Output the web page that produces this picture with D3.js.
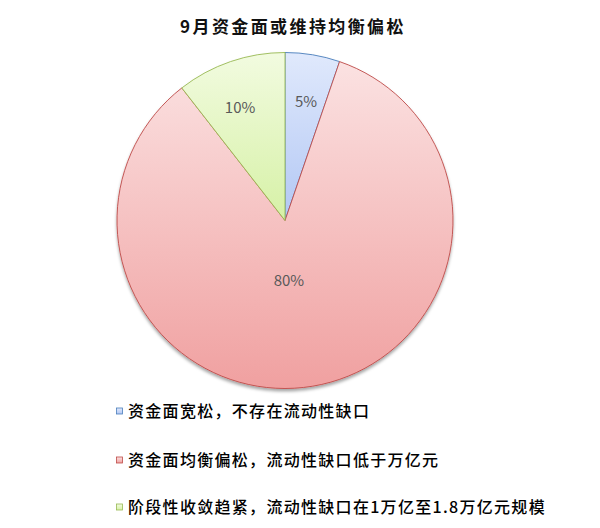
<!DOCTYPE html>
<html>
<head>
<meta charset="utf-8">
<script src="https://cdn.jsdelivr.net/npm/d3@7/dist/d3.min.js"></script>
<style>
  body { margin: 0; background: #fff; }
  text { font-family: "Noto Sans CJK SC", "Noto Sans", sans-serif; }
</style>
</head>
<body>
<div id="chart"></div>
<script>
// DATA
const title = "9月资金面或维持均衡偏松";
const categories = [
  "资金面宽松，不存在流动性缺口",
  "资金面均衡偏松，流动性缺口低于万亿元",
  "阶段性收敛趋紧，流动性缺口在1万亿至1.8万亿元规模"
];
const values = [5, 80, 10];
const valueLabels = ["5%", "80%", "10%"];

// colours: top of gradient, bottom of gradient, outline
const topColors = ["#e0e9fc", "#fbe2e2", "#f2fbe0"];
const bottomColors = ["#b2c7f4", "#f0a0a0", "#d6f1a6"];
const strokeColors = ["#4a7ebb", "#be4b48", "#98b954"];

const width = 600, height = 528;
const cx = 285, cy = 220.5, radius = 168;

const svg = d3.select("#chart").append("svg")
  .attr("width", width)
  .attr("height", height);

const defs = svg.append("defs");

categories.forEach((c, i) => {
  const grad = defs.append("linearGradient")
    .attr("id", `grad-${i}`)
    .attr("x1", 0).attr("y1", 0)
    .attr("x2", 0).attr("y2", 1);
  grad.append("stop").attr("offset", "0%").attr("stop-color", topColors[i]);
  grad.append("stop").attr("offset", "100%").attr("stop-color", bottomColors[i]);
});

const shadow = defs.append("filter")
  .attr("id", "shadow")
  .attr("x", "-10%").attr("y", "-10%")
  .attr("width", "120%").attr("height", "120%");
shadow.append("feDropShadow")
  .attr("dx", 0).attr("dy", 2.5)
  .attr("stdDeviation", 1.6)
  .attr("flood-color", "#000")
  .attr("flood-opacity", 0.35);

// title
svg.append("text")
  .attr("x", 293)
  .attr("y", 33)
  .attr("text-anchor", "middle")
  .attr("font-size", "17px")
  .attr("font-weight", "bold")
  .attr("letter-spacing", "2.4px")
  .attr("fill", "#111")
  .text(title);

// pie
const pie = d3.pie().sort(null).value(d => d);
const arcs = pie(values);
const arc = d3.arc().innerRadius(0).outerRadius(radius);

const g = svg.append("g")
  .attr("transform", `translate(${cx}, ${cy})`);

g.append("g")
  .attr("filter", "url(#shadow)")
  .selectAll("path")
  .data(arcs)
  .enter().append("path")
    .attr("d", arc)
    .attr("fill", (d, i) => `url(#grad-${i})`)
    .attr("stroke", (d, i) => strokeColors[i])
    .attr("stroke-width", 0.9)
    .attr("stroke-linejoin", "round");

// labels: small slices towards the rim, the big one closer to the middle
const big = d => (d.endAngle - d.startAngle) > Math.PI;
const labelRadius = d => big(d) ? radius * 0.36 : radius * 0.72;
// excel nudges the big label back towards the vertical a bit
const labelAngle = d => {
  const a = (d.startAngle + d.endAngle) / 2;
  return big(d) ? a + 0.1 : a - (a > Math.PI ? 0.05 : -0.01);
};
g.selectAll(".pie-label")
  .data(arcs)
  .enter().append("text")
    .attr("class", "pie-label")
    .attr("x", d => Math.sin(labelAngle(d)) * labelRadius(d))
    .attr("y", d => -Math.cos(labelAngle(d)) * labelRadius(d))
    .attr("dy", "0.35em")
    .attr("text-anchor", "middle")
    .attr("font-size", "15px")
    .attr("fill", "#595959")
    .text((d, i) => valueLabels[i]);

// legend
const legendY = [411, 460, 507];
const legend = svg.selectAll(".legend-item")
  .data(categories)
  .enter().append("g")
    .attr("class", "legend-item")
    .attr("transform", (d, i) => `translate(116, ${legendY[i]})`);

legend.append("rect")
  .attr("x", 0.5)
  .attr("y", -3)
  .attr("width", 6)
  .attr("height", 6)
  .attr("fill", (d, i) => `url(#grad-${i})`)
  .attr("stroke", (d, i) => strokeColors[i])
  .attr("stroke-width", 0.8);

legend.append("text")
  .attr("x", 12)
  .attr("y", 0)
  .attr("dy", "0.36em")
  .attr("font-size", "16px")
  .attr("font-weight", 500)
  .attr("letter-spacing", "1.3px")
  .attr("fill", "#000")
  .text(d => d);
</script>
</body>
</html>
